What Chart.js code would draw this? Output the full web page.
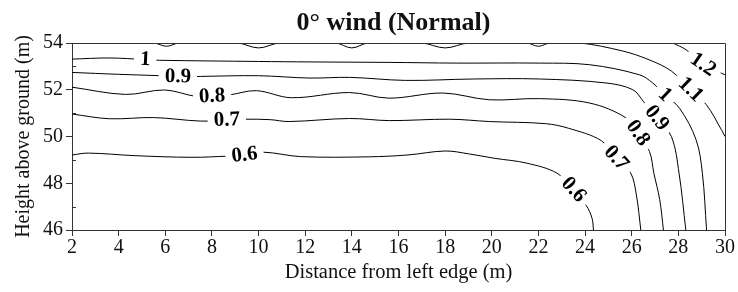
<!DOCTYPE html>
<html>
<head>
<meta charset="utf-8">
<title>0° wind (Normal)</title>
<script src="https://cdn.jsdelivr.net/npm/chart.js@4.4.1/dist/chart.umd.min.js"></script>
<style>
  html, body { margin: 0; padding: 0; background: #fff; }
</style>
</head>
<body>
<canvas id="contourChart" width="738" height="292"></canvas>
<script>
// 等值线级别
const levels = ['0.6', '0.7', '0.8', '0.9', '1', '1.1', '1.2'];

// 各等值线坐标 (x: 距左边距离 m, y: 离地高度 m)
const c06X = [2, 2.7, 4.7, 7.1, 8.7, 9.4, 10.2, 11.8, 14.7, 16.4, 18, 19, 20.1, 21.5, 22.8, 23.5, 24.05, 24.3, 24.36];
const c06Y = [49.21, 49.29, 49.18, 49.11, 49.16, 49.2, 49.33, 49.14, 49.13, 49.21, 49.38, 49.26, 49.07, 48.86, 48.43, 47.72, 47.05, 46.5, 46];

const c07X = [2, 3.6, 5.5, 7.5, 8.64, 9.4, 10.5, 11.3, 13.9, 15.6, 18.2, 19.9, 22.3, 23.3, 24.7, 25.33, 25.95, 26.2, 26.39];
const c07Y = [50.96, 50.76, 50.81, 50.66, 50.7, 50.74, 50.72, 50.64, 50.77, 50.68, 50.74, 50.64, 50.55, 50.35, 49.82, 49.07, 48.45, 47.5, 46];

const c08X = [2, 4.3, 5.97, 7.33, 8.01, 8.76, 9.9, 11.4, 13.9, 15.6, 17.9, 19.9, 22.05, 24.2, 25.75, 26.26, 26.76, 26.95, 27.2, 27.36];
const c08Y = [52.11, 51.8, 51.99, 51.71, 51.71, 51.78, 51.96, 51.66, 51.88, 51.64, 51.86, 51.57, 51.62, 51.43, 50.8, 50.14, 49.36, 48.43, 47.3, 46];

const c09X = [2, 4, 5.76, 6.54, 7.5, 10, 12.2, 13.9, 16.3, 19.2, 22.05, 24.9, 26.05, 26.5, 27.07, 27.7, 28.03, 28.32];
const c09Y = [52.74, 52.66, 52.6, 52.55, 52.57, 52.6, 52.5, 52.53, 52.4, 52.46, 52.46, 52.29, 52.0, 51.5, 50.79, 50.0, 48.43, 46];

const c10X = [2, 3.6, 5.14, 5.76, 10, 12.2, 15.6, 18.5, 22.05, 24.2, 26.33, 26.9, 27.42, 28.05, 28.76, 29.03, 29.21];
const c10Y = [53.31, 53.36, 53.29, 53.26, 53.21, 53.19, 53.17, 53.14, 53.14, 53.07, 52.64, 52.29, 51.78, 51.21, 49.86, 48.43, 46];

const c11X = [2, 5.5, 6.05, 6.6, 9.1, 10, 10.9, 13.3, 14, 14.7, 17, 18, 19, 21.5, 22, 22.5, 23.8, 25.6, 26.7, 27.7, 28.52, 29.2, 29.84, 30];
const c11Y = [54, 54, 53.86, 54, 54, 53.79, 54, 54, 53.79, 54, 54, 53.79, 54, 54, 53.86, 54, 54, 53.66, 53.3, 52.8, 52.0, 51.36, 50.3, 50.0];

const c12X = [27.76, 28.33, 29.05, 29.7, 30];
const c12Y = [54, 53.71, 53.07, 52.78, 52.64];

// 等值线标注
const labelLevel = ['1', '0.9', '0.8', '0.7', '0.6', '0.6', '0.7', '0.8', '0.9', '1', '1.1', '1.2'];
const labelX = [5.14, 6.54, 8.01, 8.64, 9.4, 23.5, 25.33, 26.26, 27.07, 27.42, 28.52, 29.05];
const labelY = [53.29, 52.55, 51.71, 50.7, 49.2, 47.72, 49.07, 50.14, 50.79, 51.78, 52.0, 53.07];

// 坐标轴刻度
const xTicks = [2, 4, 6, 8, 10, 12, 14, 16, 18, 20, 22, 24, 26, 28, 30];
const yTicks = [46, 48, 50, 52, 54];
const yMinorTicks = [47, 49, 51, 53];

const contourXs = [c06X, c07X, c08X, c09X, c10X, c11X, c12X];
const contourYs = [c06Y, c07Y, c08Y, c09Y, c10Y, c11Y, c12Y];

const serif = '"Liberation Serif", "Times New Roman", serif';

// 标题、边框和次刻度
const framePlugin = {
  id: 'frame',
  afterDraw(chart) {
    const { ctx, chartArea: a, scales } = chart;
    ctx.save();
    ctx.strokeStyle = '#333';
    ctx.lineWidth = 1;
    ctx.beginPath();
    ctx.moveTo(a.left, a.top + 0.5);
    ctx.lineTo(a.right + 0.5, a.top + 0.5);
    ctx.lineTo(a.right + 0.5, a.bottom);
    // y 轴次刻度 (朝内)
    yMinorTicks.forEach(v => {
      const py = Math.round(scales.y.getPixelForValue(v)) + 0.5;
      ctx.moveTo(a.left, py);
      ctx.lineTo(a.left + 4, py);
    });
    ctx.stroke();

    ctx.fillStyle = '#111';
    ctx.font = 'bold 26px ' + serif;
    ctx.textAlign = 'center';
    ctx.textBaseline = 'alphabetic';
    ctx.fillText('0° wind (Normal)', (a.left + a.right) / 2 - 5, 30);
    ctx.restore();
  }
};

// 等值线数值标注：白底遮断线条，沿线方向旋转
const labelPlugin = {
  id: 'contourLabels',
  afterDatasetsDraw(chart) {
    const { ctx, scales } = chart;
    ctx.save();
    ctx.font = 'bold 21px ' + serif;
    ctx.textAlign = 'center';
    ctx.textBaseline = 'middle';
    labelLevel.forEach((lv, i) => {
      const pts = chart.getDatasetMeta(levels.indexOf(lv)).data;
      const px = scales.x.getPixelForValue(labelX[i]);
      const py = scales.y.getPixelForValue(labelY[i]);
      let k = 0;
      let best = Infinity;
      pts.forEach((p, j) => {
        const d = (p.x - px) ** 2 + (p.y - py) ** 2;
        if (d < best) { best = d; k = j; }
      });
      const p0 = pts[Math.max(k - 1, 0)];
      const p1 = pts[Math.min(k + 1, pts.length - 1)];
      let ang = Math.atan2(p1.y - p0.y, p1.x - p0.x);
      if (ang > Math.PI / 2) ang -= Math.PI;
      if (ang < -Math.PI / 2) ang += Math.PI;
      const w = ctx.measureText(lv).width + 12;
      ctx.save();
      ctx.translate(px, py);
      ctx.rotate(ang);
      ctx.fillStyle = '#fff';
      ctx.fillRect(-w / 2, -7, w, 14);
      ctx.fillStyle = '#000';
      ctx.fillText(lv, 0, 0);
      ctx.restore();
    });
    ctx.restore();
  }
};

function createContourChart() {
  const ctx = document.getElementById('contourChart').getContext('2d');

  const datasets = levels.map((lv, i) => ({
    label: lv,
    data: contourXs[i].map((x, j) => ({ x: x, y: contourYs[i][j] })),
    borderColor: '#000',
    borderWidth: 1,
    pointRadius: 0,
    tension: 0.35,
    fill: false
  }));

  return new Chart(ctx, {
    type: 'line',
    data: { datasets: datasets },
    plugins: [labelPlugin, framePlugin],
    options: {
      responsive: false,
      animation: false,
      devicePixelRatio: 1,
      layout: {
        padding: { top: 43, right: 13, bottom: 0, left: 0 }
      },
      plugins: {
        legend: { display: false },
        tooltip: { enabled: false }
      },
      scales: {
        x: {
          type: 'linear',
          min: 2,
          max: 30,
          afterBuildTicks: scale => {
            scale.ticks = xTicks.map(v => ({ value: v }));
          },
          afterFit: scale => { scale.height = 62; },
          border: { color: '#333', width: 1 },
          grid: {
            drawOnChartArea: false,
            tickLength: 6,
            color: '#333'
          },
          ticks: {
            padding: 0,
            color: '#111',
            maxRotation: 0,
            font: { family: serif, size: 20 }
          },
          title: {
            display: true,
            text: 'Distance from left edge (m)',
            color: '#111',
            font: { family: serif, size: 20.5 },
            padding: { top: 0, bottom: 6.7 }
          }
        },
        y: {
          type: 'linear',
          min: 46,
          max: 54,
          afterBuildTicks: scale => {
            scale.ticks = yTicks.map(v => ({ value: v }));
          },
          afterFit: scale => { scale.width = 72; },
          border: { color: '#333', width: 1 },
          grid: {
            drawOnChartArea: false,
            tickLength: 6,
            color: '#333'
          },
          ticks: {
            padding: 3,
            color: '#111',
            font: { family: serif, size: 20 }
          },
          title: {
            display: true,
            text: 'Height above ground (m)',
            color: '#111',
            font: { family: serif, size: 20 },
            padding: { top: 11.3, bottom: 0 }
          }
        }
      }
    }
  });
}

document.addEventListener('DOMContentLoaded', () => {
  createContourChart();
});
</script>
</body>
</html>
